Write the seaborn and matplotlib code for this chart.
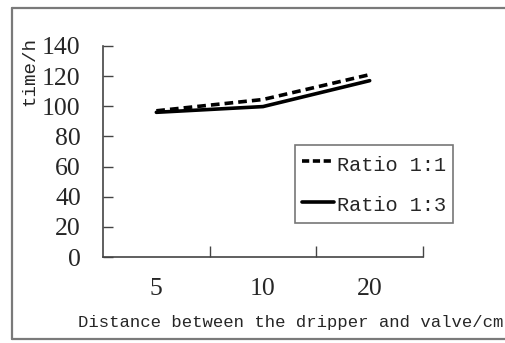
import pandas as pd
import matplotlib.pyplot as plt
import seaborn as sns

# Data
distances = ['5', '10', '20']
ratio_1_1 = [97, 104.5, 121]
ratio_1_3 = [96, 99.8, 117]
series_names = ['Ratio 1:1', 'Ratio 1:3']
y_ticks = [0, 20, 40, 60, 80, 100, 120, 140]

df = pd.DataFrame({
    'Distance': distances * 2,
    'Time': ratio_1_1 + ratio_1_3,
    'Series': [series_names[0]] * 3 + [series_names[1]] * 3,
})

sns.set_style('white')
plt.rcParams['font.family'] = ['Liberation Serif', 'DejaVu Serif']

W, H = 506, 343
fig = plt.figure(figsize=(W / 100, H / 100), dpi=100)
ax = fig.add_axes([103 / W, 1 - 257 / H, (423 - 103) / W, (257 - 46) / H])

sns.lineplot(data=df, x='Distance', y='Time', hue='Series', style='Series',
             palette=['black', 'black'],
             dashes={series_names[0]: (2.4, 1.4), series_names[1]: ''},
             linewidth=2.6, ax=ax, legend=False, sort=False)

ax.set_xlim(-0.5, 2.5)
ax.set_ylim(0, 140)
ax.set_yticks(y_ticks)
ax.set_xticks(range(len(distances)))
ax.set_xticklabels(distances)
ax.set_xticks([0.5, 1.5, 2.5], minor=True)
ax.tick_params(axis='x', which='major', length=0, pad=15, labelsize=18.5)
ax.tick_params(axis='x', which='minor', direction='in', length=8, width=1, color='#444444', bottom=True)
ax.tick_params(axis='y', direction='in', length=7, width=1, color='#444444', pad=16, labelsize=18.5, left=True)
ax.set_xlabel('')
ax.set_ylabel('')
for side in ['top', 'right']:
    ax.spines[side].set_visible(False)
for side in ['left', 'bottom']:
    ax.spines[side].set_color('#444444')
    ax.spines[side].set_linewidth(1.2)

mono = 'Liberation Mono'
fig.text(78 / W, 1 - 322 / H, 'Distance between the dripper and valve/cm',
         family=mono, fontsize=12.4, ha='left', va='center')
fig.text(30 / W, 1 - 71 / H, 'time/h', family=mono, fontsize=13.8,
         rotation=90, ha='center', va='center')

# legend
handles = [
    plt.Line2D([], [], color='black', lw=2.6, dashes=(2.0, 1.0)),
    plt.Line2D([], [], color='black', lw=2.6),
]
leg = fig.legend(handles, series_names, loc='upper left',
                 bbox_to_anchor=(295 / W, 1 - 145 / H), bbox_transform=fig.transFigure,
                 borderaxespad=0, frameon=True, fancybox=False,
                 prop={'family': mono, 'size': 14.6},
                 handlelength=1.55, handleheight=1.4, handletextpad=0.15,
                 labelspacing=0.85, borderpad=0.35)
leg.get_frame().set_edgecolor('#555555')
leg.get_frame().set_linewidth(1.2)

# outer chart border: left, top, bottom (right side runs off the image)
border = dict(color='#7a7a7a', lw=1.6, transform=fig.transFigure)
fig.add_artist(plt.Line2D([12 / W, 12 / W], [1 - 8 / H, 1 - 339 / H], **border))
fig.add_artist(plt.Line2D([12 / W, 1.0], [1 - 8 / H, 1 - 8 / H], **border))
fig.add_artist(plt.Line2D([12 / W, 1.0], [1 - 339 / H, 1 - 339 / H], **border))

fig.savefig('out.png', dpi=100)
